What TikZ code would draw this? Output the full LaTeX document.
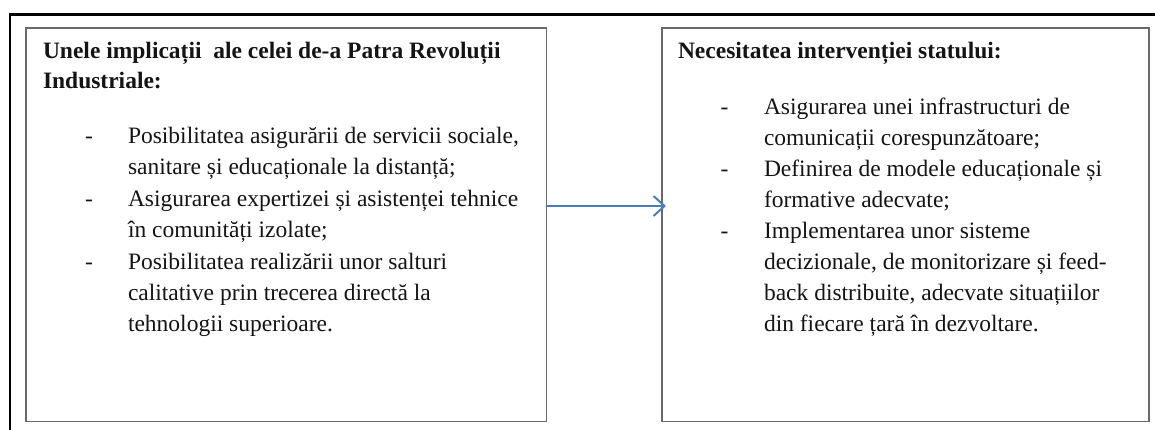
\documentclass[tikz,border=0pt]{standalone}
\usepackage{fontspec}
\setmainfont{Liberation Serif}
\usetikzlibrary{arrows.meta}
\definecolor{boxgray}{RGB}{105,105,105}
\definecolor{arrowblue}{RGB}{74,126,187}
\definecolor{txt}{RGB}{20,20,20}
\newcommand\txtlines[1]{\begin{tabular}[t]{@{}l@{}}#1\end{tabular}}
\begin{document}
\begin{tikzpicture}[x=1pt,y=-1pt,
  panel/.style={draw=boxgray, line width=1.6pt, anchor=north west, inner sep=0pt, minimum height=393pt},
  txtblk/.style={anchor=base west, inner sep=0pt, outer sep=0pt, text=txt, font=\fontsize{23.5}{31}\selectfont},
  titleblk/.style={txtblk, font=\bfseries\fontsize{23.5}{30}\selectfont},
  dashmark/.style={anchor=base, inner sep=0pt, outer sep=0pt, text=txt, font=\fontsize{23.5}{31}\selectfont},
  link/.style={draw=arrowblue, line width=2pt, shorten >=-5pt, -{Straight Barb[length=11pt,width=20pt,line width=2pt]}}
]
\useasboundingbox (0,0) rectangle (1155,430);
\clip (0,0) rectangle (1155,430);
% outer frame (only top and left sides visible)
\draw[line width=2.6pt, black] (10,440) -- (10,14.5) -- (1165,14.5);

% boxes
\node[panel, minimum width=520.5pt] (L) at (25,27.5) {};
\node[panel, minimum width=487pt] (R) at (661,27.5) {};

% left box text
\node[titleblk] (Lt) at (43,59) {\txtlines{Unele implicații\ \ ale celei de-a Patra Revoluții\\Industriale:}};
\node[dashmark] (Ld1) at (89,143.3) {-};
\node[txtblk] (L1) at (128,143.3) {\txtlines{Posibilitatea asigurării de servicii sociale,\\sanitare și educaționale la distanță;}};
\node[dashmark] (Ld2) at (89,206.7) {-};
\node[txtblk] (L2) at (128,206.7) {\txtlines{Asigurarea expertizei și asistenței tehnice\\în comunități izolate;}};
\node[dashmark] (Ld3) at (89,269) {-};
\node[txtblk] (L3) at (128,269) {\txtlines{Posibilitatea realizării unor salturi\\calitative prin trecerea directă la\\tehnologii superioare.}};

% right box text
\node[titleblk] (Rt) at (678,58.3) {Necesitatea intervenției statului:};
\node[dashmark] (Rd1) at (724.5,115) {-};
\node[txtblk] (R1) at (764,115) {\txtlines{Asigurarea unei infrastructuri de\\comunicații corespunzătoare;}};
\node[dashmark] (Rd2) at (724.5,176.7) {-};
\node[txtblk] (R2) at (764,176.7) {\txtlines{Definirea de modele educaționale și\\formative adecvate;}};
\node[dashmark] (Rd3) at (724.5,238) {-};
\node[txtblk] (R3) at (764,238) {\txtlines{Implementarea unor sisteme\\decizionale, de monitorizare și feed-\\back distribuite, adecvate situațiilor\\din fiecare țară în dezvoltare.}};

% connector
\draw[link] (L.east |- 0,206) -- (R.west |- 0,206);
\end{tikzpicture}
\end{document}
